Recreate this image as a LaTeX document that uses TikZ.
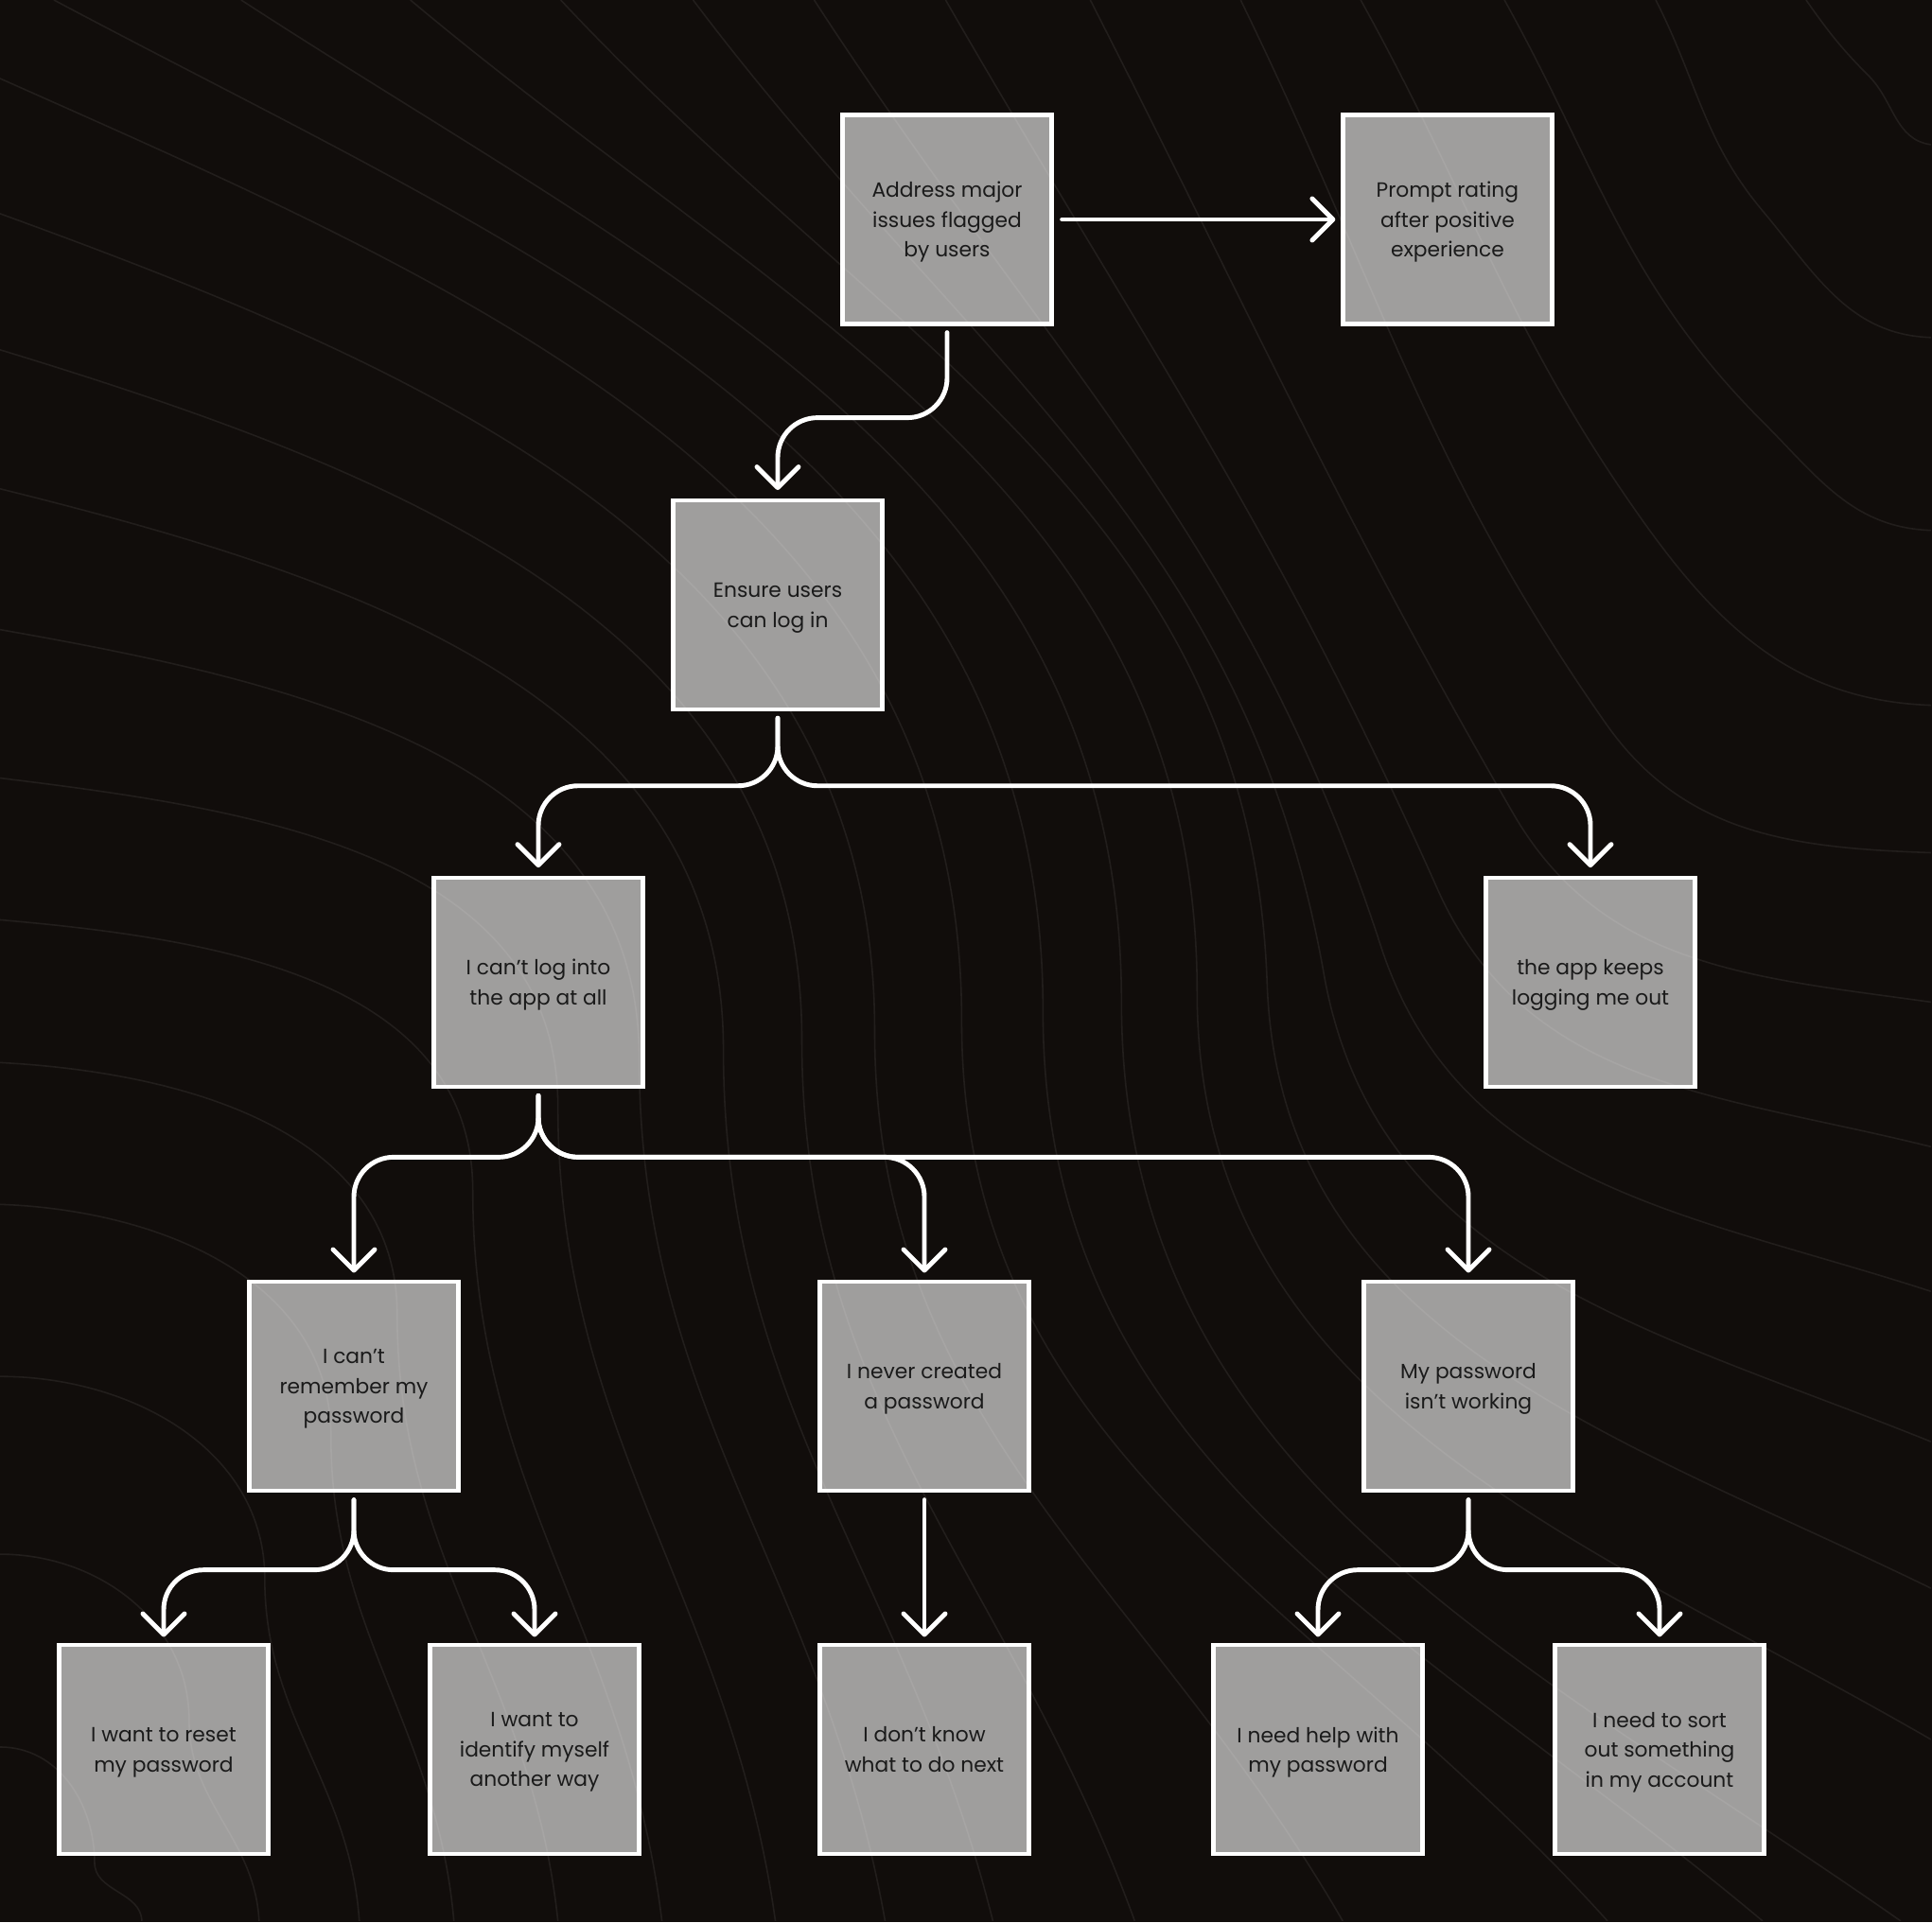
\documentclass[tikz,border=0pt]{standalone}
\usepackage{fontspec}
\setmainfont{Poppins}
\usetikzlibrary{arrows.meta}
\usetikzlibrary{positioning}
\definecolor{canvas}{HTML}{110D0B}
\definecolor{contour}{HTML}{221E1C}
\definecolor{ink}{HTML}{1A1A1A}
\tikzset{
  node distance = 1.734cm and 3.037cm,
  > = {Straight Barb[length = 2.2mm, width = 4.4mm, round]},
  goal/.style = {rectangle,
                 draw = white,
                 line width = 1.2pt,
                 fill = white,
                 fill opacity = 0.6,
                 text opacity = 1,
                 text = ink,
                 align = center,
                 minimum size = 2.21cm,
                 inner sep = 0pt,
                 text depth = -1.4pt,
                 font = \fontsize{6.2pt}{9.0pt}\selectfont},
  flow/.style = {draw = white,
                 line width = 1.4pt,
                 rounded corners = 4.2mm,
                 line cap = round,
                 ->},
  wave/.style = {draw = contour,
                 line width = 0.45pt}
}

\begin{document}
\begin{tikzpicture}

\useasboundingbox (0,0) rectangle (20.42,-20.32);
\fill[canvas] (0,0) rectangle (20.42,-20.32);

% background contour lines
\begin{scope}[x = 0.01cm, y = 0.01cm]
\clip (0,0) rectangle (2042,-2032);
\foreach \sx/\sy/\so/\mx/\my/\ma/\ex/\ey/\ei [evaluate = \ma as \mi using \ma+180] in {
  1910/0/-55/1976/80/-45/2042/153/172,
  1751/0/-63/1864/223/-50/2042/357/178,
  1591/0/-61/1864/446/-45/2042/561/178,
  1439/0/-61/1731/542/-55/2042/746/178,
  1312/0/-64/1698/765/-55/2042/902/178,
  1153/0/-63/1600/860/-60/2042/1060/172,
  1000/0/-60/1520/940/-66/2042/1213/166,
  861/0/-57/1460/1000/-72/2042/1366/162,
  733/0/-53/1400/1030/-80/2042/1525/158,
  593/0/-47/1340/1040/-88/2042/1680/154,
  434/0/-40/1266/1050/-90/2042/1840/150,
  255/0/-33/1186/1060/-90/2010/2032/145,
  57/0/-28/1103/1070/-90/1864/2032/140,
  0/83/-24/1017/1080/-90/1700/2032/132,
  0/226/-20/925/1090/-90/1420/2032/120,
  0/370/-17/848/1100/-90/1200/2032/110,
  0/517/-14/765/1110/-90/1050/2032/104,
  0/666/-10/676/1120/-90/936/2032/100,
  0/823/-7/590/1170/-90/820/2032/98,
  0/973/-5/500/1260/-90/700/2032/97,
  0/1124/-3/420/1390/-90/590/2032/96,
  0/1274/-2/350/1520/-90/480/2032/95,
  0/1456/0/280/1670/-90/380/2032/94,
  0/1644/0/200/1820/-90/274/2032/93,
  0/1848/0/100/1970/-90/150/2032/92}
  \draw[wave] (\sx,-\sy) to[out = \so, in = \mi] (\mx,-\my)
                         to[out = \ma, in = \ei] (\ex,-\ey);
\end{scope}

\node[goal](address) at (10.01,-2.32){Address major\\issues flagged\\by users};

\node[goal](prompt)[right = of address]{Prompt rating\\after positive\\experience};

\node[goal](ensure)[below = 1.824cm of address, xshift = -1.79cm]{Ensure users\\can log in};

\node[goal](cant-log)[below = of ensure, xshift = -2.53cm]{I can’t log into\\the app at all};

\node[goal](logs-out)[below = of ensure, xshift = 8.59cm]{the app keeps\\logging me out};

\node[goal](forgot)[below = 2.021cm of cant-log, xshift = -1.95cm]{I can’t\\remember my\\password};

\node[goal](never)[below = 2.021cm of cant-log, xshift = 4.08cm]{I never created\\a password};

\node[goal](not-working)[below = 2.021cm of cant-log, xshift = 9.83cm]{My password\\isn’t working};

\node[goal](reset)[below = 1.588cm of forgot, xshift = -2.01cm]{I want to reset\\my password};

\node[goal](identify)[below = 1.588cm of forgot, xshift = 1.91cm]{I want to\\identify myself\\another way};

\node[goal](next)[below = 1.588cm of never]{I don’t know\\what to do next};

\node[goal](help)[below = 1.588cm of not-working, xshift = -1.59cm]{I need help with\\my password};

\node[goal](account)[below = 1.588cm of not-working, xshift = 2.02cm]{I need to sort\\out something\\in my account};

\draw[flow] ([xshift = 0.09cm]address.east) -- ([xshift = -0.06cm]prompt.west);

\draw[flow] ([yshift = -0.07cm]address.south) -- ([yshift = -0.97cm]address.south)
  -| ([yshift = 0.09cm]ensure.north);

\draw[flow] ([yshift = -0.07cm]ensure.south) -- ([yshift = -0.785cm]ensure.south)
  -| ([yshift = 0.085cm]cant-log.north);
\draw[flow] ([yshift = -0.07cm]ensure.south) -- ([yshift = -0.785cm]ensure.south)
  -| ([yshift = 0.085cm]logs-out.north);

\draw[flow] ([yshift = -0.075cm]cant-log.south) -- ([yshift = -0.725cm]cant-log.south)
  -| ([yshift = 0.075cm]forgot.north);
\draw[flow] ([yshift = -0.075cm]cant-log.south) -- ([yshift = -0.725cm]cant-log.south)
  -| ([yshift = 0.075cm]never.north);
\draw[flow] ([yshift = -0.075cm]cant-log.south) -- ([yshift = -0.725cm]cant-log.south)
  -| ([yshift = 0.075cm]not-working.north);

\draw[flow] ([yshift = -0.075cm]forgot.south) -- ([yshift = -0.815cm]forgot.south)
  -| ([yshift = 0.065cm]reset.north);
\draw[flow] ([yshift = -0.075cm]forgot.south) -- ([yshift = -0.815cm]forgot.south)
  -| ([yshift = 0.065cm]identify.north);

\draw[flow] ([yshift = -0.075cm]never.south) -- ([yshift = 0.065cm]next.north);

\draw[flow] ([yshift = -0.075cm]not-working.south) -- ([yshift = -0.815cm]not-working.south)
  -| ([yshift = 0.065cm]help.north);
\draw[flow] ([yshift = -0.075cm]not-working.south) -- ([yshift = -0.815cm]not-working.south)
  -| ([yshift = 0.065cm]account.north);

\end{tikzpicture}
\end{document}
